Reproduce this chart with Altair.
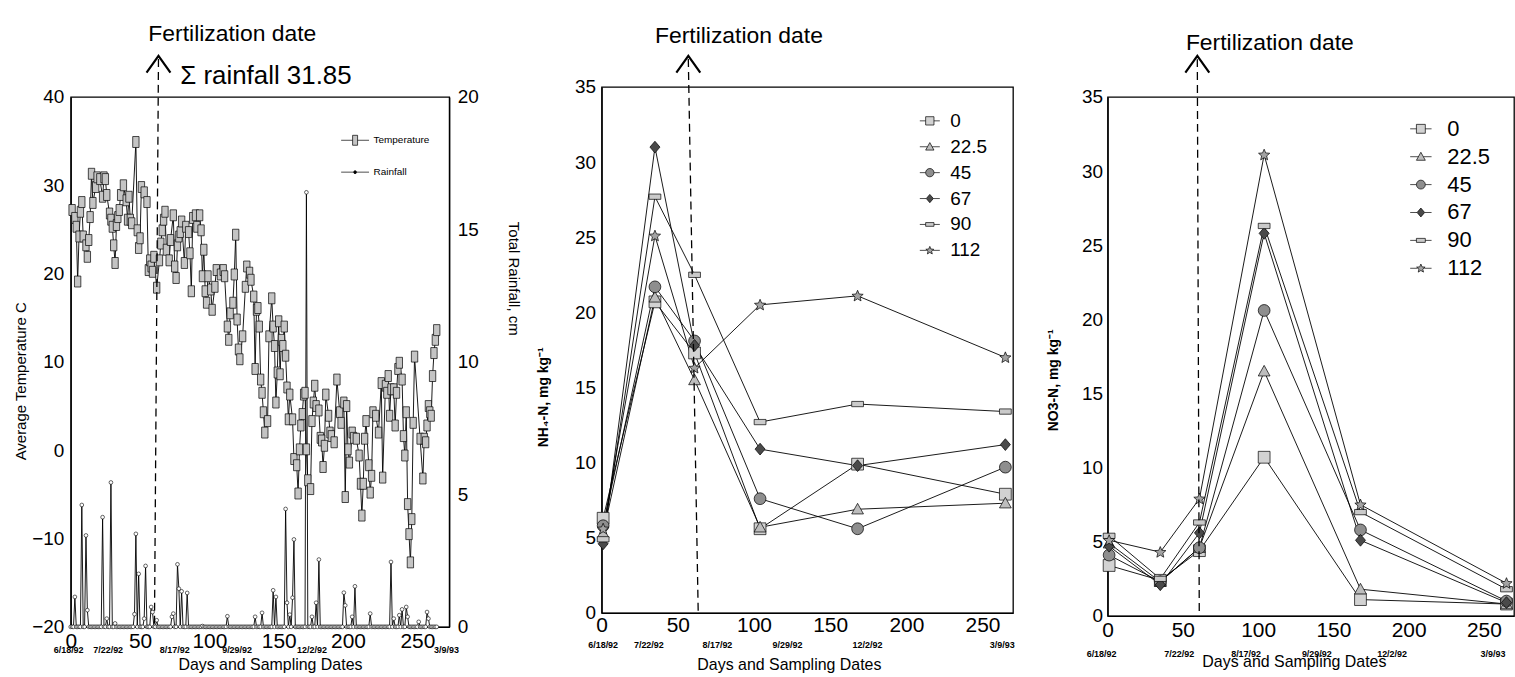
import math
import altair as alt
import pandas as pd

FONT = "Liberation Sans"

# ---------------- Left panel: daily temperature (day, deg C) ----------------
temp_series = [
    (1, 27.2), (3, 26.3), (4, 25.3), (5, 19.1), (6, 24.2), (7, 27.0), (8, 28.1), (9, 24.2), (11, 23.2), (12, 21.9),
    (13, 23.8), (14, 26.4), (15, 31.3), (16, 28.0), (18, 29.8), (19, 30.9), (21, 30.7), (23, 28.7), (24, 30.9), (25, 30.7),
    (26, 28.9), (28, 26.8), (29, 26.1), (30, 25.3), (31, 23.2), (32, 21.2), (33, 25.5), (34, 26.4), (35, 27.2), (36, 28.9),
    (38, 30.0), (40, 28.3), (41, 26.1), (42, 28.7), (43, 26.1), (44, 25.7), (47, 34.9), (48, 24.9), (49, 22.9), (50, 24.0),
    (51, 29.8), (53, 29.2), (55, 28.1), (56, 20.4), (57, 21.5), (58, 20.8), (59, 20.2), (60, 21.9), (62, 18.4), (64, 21.5),
    (65, 23.4), (66, 24.9), (67, 26.1), (68, 27.0), (69, 22.7), (71, 21.5), (72, 23.8), (74, 26.6), (75, 20.8), (76, 19.5),
    (77, 23.2), (78, 24.2), (79, 24.7), (80, 25.9), (82, 21.2), (83, 25.3), (85, 24.7), (86, 22.3), (87, 18.0), (88, 26.3),
    (90, 26.6), (91, 25.3), (93, 26.6), (94, 24.9), (95, 19.7), (96, 22.7), (97, 18.0), (98, 16.7), (99, 19.7), (101, 18.2),
    (102, 15.9), (104, 18.5), (105, 20.4), (108, 19.9), (110, 20.4), (111, 19.7), (113, 14.0), (114, 12.5), (115, 15.5), (117, 16.7),
    (118, 19.9), (119, 24.4), (120, 14.8), (121, 11.4), (122, 10.3), (124, 12.9), (126, 18.5), (127, 20.8), (129, 20.1), (130, 19.3),
    (132, 17.4), (133, 9.2), (134, 15.9), (135, 16.1), (136, 14.0), (137, 8.0), (138, 6.5), (139, 4.3), (140, 2.0), (142, 3.3),
    (143, 12.9), (145, 17.2), (146, 14.0), (147, 11.8), (148, 5.4), (149, 8.8), (150, 14.6), (151, 8.6), (152, 12.5), (153, 11.8),
    (154, 14.0), (155, 10.7), (156, 7.1), (157, 3.5), (158, 6.3), (160, 3.5), (161, -1.0), (163, -1.7), (164, -4.9), (165, 0.1),
    (166, 2.8), (167, 4.1), (168, 6.3), (169, 6.5), (170, 0.1), (171, -3.4), (173, -4.4), (174, 3.3), (175, 5.4), (176, 7.3),
    (177, 5.0), (179, 4.5), (180, 1.4), (181, 1.1), (182, -1.9), (183, 0.5), (184, 6.3), (186, 3.9), (187, 2.0), (188, 1.6),
    (190, 0.9), (192, 8.0), (194, 4.3), (195, 3.1), (197, 5.4), (198, -5.3), (199, 5.0), (200, 0.1), (201, -1.4), (203, 2.0),
    (204, 1.4), (206, 1.3), (208, -0.6), (209, -3.8), (210, -7.4), (211, -3.8), (212, 1.3), (213, 3.3), (215, -1.7), (216, -4.8),
    (217, -2.9), (218, 4.3), (220, 3.9), (222, 2.0), (224, 7.6), (225, -3.1), (227, 7.3), (228, 6.5), (229, 8.4), (230, 3.9),
    (231, 6.9), (233, 6.9), (234, 2.8), (235, 6.5), (236, 9.2), (237, 9.9), (239, 8.0), (240, 1.6), (241, -0.6), (242, 4.3),
    (243, -6.1), (244, -9.5), (245, -12.7), (246, -7.8), (247, 3.1), (248, 10.6), (252, 1.3), (254, -3.2), (255, 1.3), (256, 0.9),
    (257, 2.8), (258, 5.0), (259, 4.3), (260, 3.9), (261, 8.4), (262, 11.0), (263, 12.5), (264, 13.6),
]

# rainfall events (day, cm); every other recorded day reads 0
rain_events = [
    (3, 1.13), (8, 4.6), (11, 3.45), (12, 0.63), (23, 4.14), (26, 0.31), (29, 5.45), (32, 0.13), (46, 0.48), (47, 3.51),
    (49, 2.0), (53, 0.31), (54, 2.3), (58, 0.75), (59, 0.56), (62, 0.25), (73, 0.38), (74, 0.5), (77, 2.36), (78, 1.44),
    (80, 1.34), (84, 1.28), (95, 0.03), (113, 0.4), (133, 0.38), (138, 0.53), (146, 1.38), (148, 1.13), (155, 4.45), (156, 0.91),
    (158, 0.46), (160, 1.1), (161, 3.3), (170, 16.4), (174, 0.38), (177, 0.91), (179, 2.54), (197, 1.29), (198, 0.81), (203, 0.38),
    (205, 1.53), (216, 0.5), (231, 2.45), (233, 0.31), (237, 0.44), (239, 0.66), (242, 0.75), (243, 0.38), (251, 0.19), (257, 0.56),
    (258, 0.31),
]
rain_record_days = list(range(0, 265))

# sampling dates used as secondary tick labels
date_labels = ["6/18/92", "7/22/92", "8/17/92", "9/29/92", "12/2/92", "3/9/93"]
left_date_days = [-1.5, 27, 75, 120, 174, 271]
mid_date_days = [1, 31, 76, 122, 174.5, 263]
right_date_days = [-4, 47.6, 92, 139, 189, 256]

# ---------------- Middle / right panels ----------------
rates = ["0", "22.5", "45", "67", "90", "112"]
sample_days = [1, 35, 61, 104, 168, 265]
nh4 = {
    "0":    [6.3, 20.7, 17.3, 5.6, 9.9, 7.9],
    "22.5": [5.3, 21.0, 15.5, 5.7, 6.9, 7.3],
    "45":   [5.8, 21.7, 18.1, 7.6, 5.6, 9.7],
    "67":   [4.6, 31.0, 17.8, 10.9, 9.8, 11.2],
    "90":   [4.9, 27.7, 22.5, 12.7, 13.9, 13.4],
    "112":  [5.6, 25.1, 16.3, 20.5, 21.1, 17.0],
}
no3 = {
    "0":    [3.4, 2.4, 4.4, 10.7, 1.1, 0.8],
    "22.5": [4.9, 2.3, 4.6, 16.5, 1.8, 0.8],
    "45":   [4.1, 2.3, 4.6, 20.6, 5.8, 1.0],
    "67":   [4.7, 2.1, 5.6, 25.8, 5.1, 0.9],
    "90":   [5.4, 2.5, 6.3, 26.3, 7.0, 1.8],
    "112":  [5.1, 4.3, 7.9, 31.1, 7.5, 2.2],
}

# ---------------- marker shapes ----------------
SQ = "M-1,-1L1,-1L1,1L-1,1Z"
TRI = "M0,-1L1,0.8L-1,0.8Z"
CIRC = "M1,0A1,1,0,1,1,-1,0A1,1,0,1,1,1,0Z"
DIAM = "M0,-1L0.85,0L0,1L-0.85,0Z"
FLAT = "M-1,-0.45L1,-0.45L1,0.45L-1,0.45Z"
_pts = []
for k in range(10):
    r = 1.0 if k % 2 == 0 else 0.45
    a = -math.pi / 2 + k * math.pi / 5
    _pts.append((r * math.cos(a), r * math.sin(a) + 0.05))
STAR = "M" + "L".join(f"{x:.3f},{y:.3f}" for x, y in _pts) + "Z"
TEMP_RECT = "M-0.58,-1L0.58,-1L0.58,1L-0.58,1Z"
CHEV = "M-1,0.7L0,-0.7L1,0.7"


def stub(shape, inner, outer=2.4):
    return f"M{-outer},0L{-inner},0{shape}M{inner},0L{outer},0"


SHAPES = [SQ, TRI, CIRC, DIAM, FLAT, STAR]
STUB_SHAPES = [stub(SQ, 1), stub(TRI, 0.56), stub(CIRC, 1), stub(DIAM, 0.85), stub(FLAT, 1), stub(STAR, 0.75)]
FILLS = ["#d2d2d2", "#bdbdbd", "#8e8e8e", "#4a4a4a", "#cacaca", "#a3a3a3"]

# ---------------- frames ----------------
temp_df = pd.DataFrame(temp_series, columns=["day", "temp"])
rain_map = dict(rain_events)
rain_df = pd.DataFrame({"day": rain_record_days, "rain": [rain_map.get(d, 0.0) for d in rain_record_days]})


def long_frame(values):
    rows = []
    for rt in rates:
        for d, v in zip(sample_days, values[rt]):
            rows.append({"day": d, "rate": rt, "val": v})
    return pd.DataFrame(rows)


nh_df = long_frame(nh4)
no_df = long_frame(no3)

# ---------------- left panel ----------------
W1, H1 = 380, 532
xs1 = alt.Scale(domain=[0, 273], nice=False, zero=False)
yst = alt.Scale(domain=[-20, 40], nice=False, zero=False)
ysr = alt.Scale(domain=[0, 20], nice=False, zero=False)

ax_x1 = alt.Axis(values=[0, 50, 100, 150, 200, 250], title="Days and Sampling Dates", labelFontSize=21,
                 labelPadding=4, titleFontSize=16, titleFontWeight="normal", titleX=200, titleY=38,
                 titleAlign="center", titleBaseline="middle")
ax_yt = alt.Axis(orient="left", values=[-20, -10, 0, 10, 20, 30, 40], title="Average Temperature C",
                 labelFontSize=19, labelPadding=7, titleFontSize=15, titleFontWeight="normal", titleX=-50,
                 titleY=285, titleAngle=270, titleAlign="center", titleBaseline="middle")
ax_yr = alt.Axis(orient="right", values=[0, 5, 10, 15, 20], title="Total Rainfall, cm", labelFontSize=19,
                 labelPadding=8, titleFontSize=15, titleFontWeight="normal", titleAngle=90, titleX=65,
                 titleY=182, titleAlign="center", titleBaseline="middle")

rain_line = alt.Chart(rain_df).mark_line(color="black", strokeWidth=0.9).encode(
    x=alt.X("day:Q", scale=xs1, axis=ax_x1), y=alt.Y("rain:Q", scale=ysr, axis=ax_yr))
rain_pts = alt.Chart(rain_df).mark_point(shape="circle", size=14, filled=True, fill="white", stroke="black",
                                         strokeWidth=0.6, opacity=1).encode(
    x=alt.X("day:Q", scale=xs1), y=alt.Y("rain:Q", scale=ysr))
rain_group = alt.layer(rain_line, rain_pts)

temp_line = alt.Chart(temp_df).mark_line(color="black", strokeWidth=0.9).encode(
    x=alt.X("day:Q", scale=xs1), y=alt.Y("temp:Q", scale=yst, axis=ax_yt))
temp_pts = alt.Chart(temp_df).mark_point(shape=TEMP_RECT, size=121, filled=True, fill="#c4c4c4", stroke="black",
                                         strokeWidth=0.7, opacity=1).encode(
    x=alt.X("day:Q", scale=xs1), y=alt.Y("temp:Q", scale=yst))


def annotations(xs, ys, rule_row, chev_row, text_row, W, H, date_days, date_dy, spacer):
    rdf = pd.DataFrame([rule_row])
    rule = alt.Chart(rdf).mark_rule(color="black", strokeWidth=1.3, strokeDash=[8, 5]).encode(
        x=alt.X("xt:Q", scale=xs), x2="xb:Q", y=alt.Y("yt:Q", scale=ys), y2="yb:Q")
    chev = alt.Chart(pd.DataFrame([chev_row])).mark_point(shape=CHEV, size=576, filled=False, color="black",
                                                          strokeWidth=2.2, opacity=1).encode(
        x=alt.X("x:Q", scale=xs), y=alt.Y("y:Q", scale=ys))
    txt = alt.Chart(pd.DataFrame([text_row])).mark_text(align="left", baseline="middle", fontSize=23,
                                                        font=FONT, color="black").encode(
        x=alt.X("x:Q", scale=xs), y=alt.Y("y:Q", scale=ys), text="t:N")
    ddf = pd.DataFrame({"day": date_days, "label": date_labels})
    dates = alt.Chart(ddf).mark_text(fontSize=9, fontWeight="bold", font=FONT, color="black",
                                     baseline="middle").encode(
        x=alt.X("day:Q", scale=xs), y=alt.value(H + date_dy), text="label:N")
    sp = alt.Chart(pd.DataFrame({"k": [0]})).mark_rule(opacity=0, strokeWidth=0.01).encode(
        x=alt.value(spacer[0]), x2=alt.value(spacer[1]), y=alt.value(spacer[2]))
    return [rule, chev, txt, dates, sp]


left_ann = annotations(xs1, yst, {"xt": 63.3, "xb": 60.4, "yt": 44.3, "yb": -20}, {"x": 63.3, "y": 43.7},
                       {"x": 56, "y": 47.1, "t": "Fertilization date"}, W1, H1, left_date_days, 23,
                       (-70, 460, -92))
sigma = alt.Chart(pd.DataFrame([{"x": 79, "y": 42.4, "t": "Σ rainfall 31.85"}])).mark_text(
    align="left", baseline="middle", fontSize=26, font=FONT, color="black").encode(
    x=alt.X("x:Q", scale=xs1), y=alt.Y("y:Q", scale=yst), text="t:N")

leg_left = alt.Legend(orient="none", legendX=280, legendY=38, title=None, labelFontSize=10, labelOffset=13,
                      rowPadding=20, symbolSize=100, symbolStrokeColor="black", symbolStrokeWidth=0.7,
                      padding=0, labelFont=FONT, labelColor="black")
left_series = ["Temperature", "Rainfall"]
left_leg_shapes = [stub("M-0.5,-1L0.5,-1L0.5,1L-0.5,1Z", 0.5, 2.8),
                   stub("M0.3,0A0.3,0.3,0,1,1,-0.3,0A0.3,0.3,0,1,1,0.3,0Z", 0.3, 2.8)]
leg_layer_left = alt.Chart(pd.DataFrame({"series": left_series})).transform_filter("false").mark_point(
    filled=True, opacity=1, strokeWidth=0.7).encode(
    shape=alt.Shape("series:N", scale=alt.Scale(domain=left_series, range=left_leg_shapes), legend=leg_left),
    fill=alt.Fill("series:N", scale=alt.Scale(domain=left_series, range=["#c4c4c4", "black"]), legend=leg_left),
    stroke=alt.Stroke("series:N", scale=alt.Scale(domain=left_series, range=["black", "black"]), legend=leg_left))

temp_group = alt.layer(temp_line, temp_pts, *left_ann, sigma, leg_layer_left).resolve_scale(
    shape="independent", fill="independent", stroke="independent")
left = alt.layer(rain_group, temp_group).resolve_scale(
    y="independent", shape="independent", fill="independent", stroke="independent").properties(
    width=W1, height=H1)


# ---------------- nitrogen panels ----------------
def n_panel(df, W, H, ax_x, ax_y, leg, ann):
    xs = alt.Scale(domain=[0, 270], nice=False, zero=False)
    ys = alt.Scale(domain=[0, 35], nice=False, zero=False)
    lines = alt.Chart(df).mark_line(color="black", strokeWidth=0.9).encode(
        x=alt.X("day:Q", scale=xs, axis=ax_x), y=alt.Y("val:Q", scale=ys, axis=ax_y), detail="rate:N")
    pts = alt.Chart(df).mark_point(filled=True, size=140, stroke="black", strokeWidth=0.7, opacity=1).encode(
        x=alt.X("day:Q", scale=xs), y=alt.Y("val:Q", scale=ys),
        shape=alt.Shape("rate:N", scale=alt.Scale(domain=rates, range=SHAPES), legend=None),
        fill=alt.Fill("rate:N", scale=alt.Scale(domain=rates, range=FILLS), legend=None))
    legl = alt.Chart(df).transform_filter("false").mark_point(filled=True, opacity=1, strokeWidth=0.7).encode(
        shape=alt.Shape("rate:N", scale=alt.Scale(domain=rates, range=STUB_SHAPES), legend=leg),
        fill=alt.Fill("rate:N", scale=alt.Scale(domain=rates, range=FILLS), legend=leg),
        stroke=alt.Stroke("rate:N", scale=alt.Scale(domain=rates, range=["black"] * 6), legend=leg))
    anns = annotations(xs, ys, *ann)
    return alt.layer(lines, pts, legl, *anns).resolve_scale(
        shape="independent", fill="independent", stroke="independent").properties(width=W, height=H)


W2, H2 = 413, 528
ax_x2 = alt.Axis(values=[0, 50, 100, 150, 200, 250], title="Days and Sampling Dates", labelFontSize=21,
                 labelPadding=2, titleFontSize=16, titleFontWeight="normal", titleX=188, titleY=52,
                 titleAlign="center", titleBaseline="middle")
ax_y2 = alt.Axis(values=[0, 5, 10, 15, 20, 25, 30, 35], title="NH₄-N, mg kg⁻¹", labelFontSize=19, labelPadding=6,
                 titleFontSize=14, titleFontWeight="bold", titleX=-58, titleY=311, titleAngle=270,
                 titleAlign="center", titleBaseline="middle")
leg_mid = alt.Legend(orient="none", legendX=320, legendY=24.5, title=None, labelFontSize=19, labelOffset=11,
                     rowPadding=6, symbolSize=70, symbolStrokeColor="black", symbolStrokeWidth=0.7, padding=0,
                     labelFont=FONT, labelColor="black")
mid = n_panel(nh_df, W2, H2, ax_x2, ax_y2, leg_mid,
              ({"xt": 56.9, "xb": 63.4, "yt": 36.86, "yb": 0}, {"x": 56.9, "y": 36.52},
               {"x": 35, "y": 38.38, "t": "Fertilization date"}, W2, H2, mid_date_days, 32, (-71, 434, -82)))

W3, H3 = 408, 521
ax_x3 = alt.Axis(values=[0, 50, 100, 150, 200, 250], title="Days and Sampling Dates", labelFontSize=21,
                 labelPadding=4, titleFontSize=16, titleFontWeight="normal", titleX=187, titleY=46,
                 titleAlign="center", titleBaseline="middle")
ax_y3 = alt.Axis(values=[0, 5, 10, 15, 20, 25, 30, 35], title="NO3-N, mg kg⁻¹", labelFontSize=19, labelPadding=5,
                 titleFontSize=14, titleFontWeight="bold", titleX=-54, titleY=284, titleAngle=270,
                 titleAlign="center", titleBaseline="middle")
leg_right = alt.Legend(orient="none", legendX=303.5, legendY=21, title=None, labelFontSize=22, labelOffset=15.6,
                       rowPadding=6, symbolSize=80, symbolStrokeColor="black", symbolStrokeWidth=0.7, padding=0,
                       labelFont=FONT, labelColor="black")
right = n_panel(no_df, W3, H3, ax_x3, ax_y3, leg_right,
                ({"xt": 59.6, "xb": 60.9, "yt": 37.55, "yb": 0}, {"x": 59.6, "y": 37.2},
                 {"x": 52, "y": 38.63, "t": "Fertilization date"}, W3, H3, right_date_days, 38, (-72, 408, -92)))


# a 1-px invisible header above each panel: rows in a vconcat stack by their bounds,
# so each panel's own top extent decides where its plot area starts
def header():
    return alt.Chart(pd.DataFrame({"k": [0]})).mark_rule(opacity=0, strokeWidth=0.01).encode(
        x=alt.value(0), x2=alt.value(1), y=alt.value(0.5)).properties(
        width=1, height=1, view=alt.ViewBackground(stroke="transparent", fill="transparent"))


cols = [alt.vconcat(header(), p, spacing=0) for p in (left, mid, right)]
chart = alt.hconcat(*cols, spacing=0).properties(padding=0).configure(font=FONT).configure_view(
    stroke="black", strokeWidth=1.3).configure_axis(
    grid=False, ticks=False, domainColor="black", domainWidth=1.3, labelColor="black", titleColor="black",
    labelFont=FONT, titleFont=FONT, labelFlush=False)

chart.save("out.html", embed_options={"renderer": "svg", "actions": False})
